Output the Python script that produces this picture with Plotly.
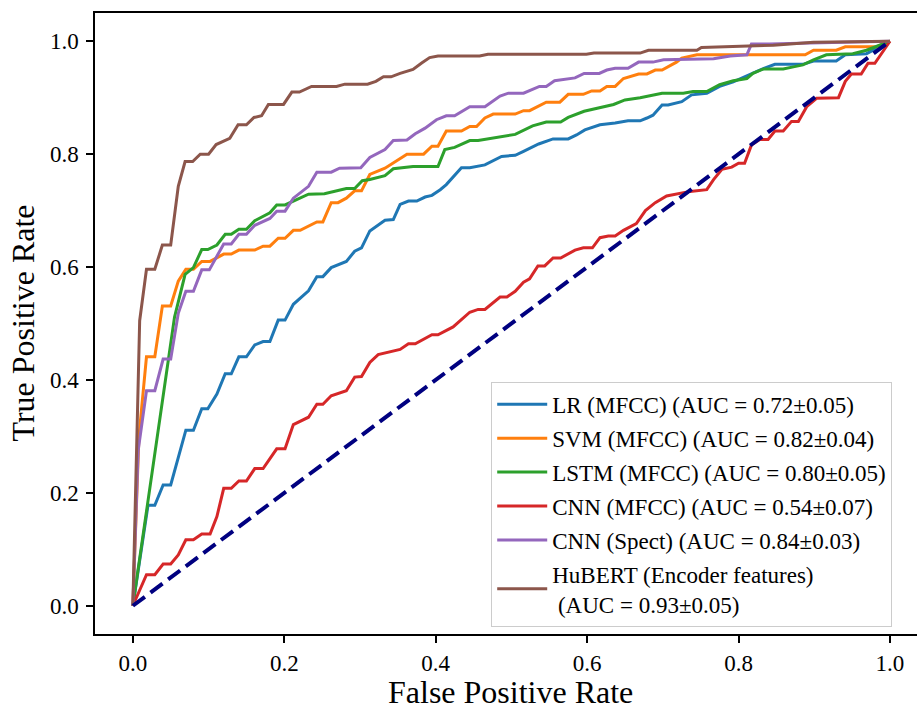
import plotly.graph_objects as go

# ---- data ----
lr_fpr = [0, 0.020, 0.029, 0.040, 0.050, 0.070, 0.080, 0.091, 0.099, 0.111, 0.122, 0.130, 0.140, 0.150,
          0.161, 0.172, 0.181, 0.192, 0.201, 0.212, 0.232, 0.243, 0.251, 0.262, 0.282, 0.293, 0.302,
          0.313, 0.333, 0.344, 0.353, 0.364, 0.375, 0.386, 0.395, 0.406, 0.414, 0.434, 0.445, 0.465,
          0.487, 0.505, 0.516, 0.536, 0.555, 0.575, 0.586, 0.597, 0.617, 0.637, 0.654, 0.670, 0.679,
          0.687, 0.699, 0.707, 0.725, 0.738, 0.758, 0.775, 0.793, 0.828, 0.848, 0.885, 0.899, 0.929,
          0.941, 0.969, 1.0]
lr_tpr = [0, 0.178, 0.178, 0.214, 0.214, 0.311, 0.311, 0.349, 0.349, 0.375, 0.411, 0.411, 0.441, 0.441,
          0.462, 0.468, 0.468, 0.506, 0.506, 0.534, 0.558, 0.583, 0.583, 0.599, 0.610, 0.628, 0.634,
          0.664, 0.683, 0.684, 0.711, 0.717, 0.717, 0.724, 0.727, 0.737, 0.746, 0.776, 0.776, 0.781,
          0.796, 0.798, 0.805, 0.818, 0.827, 0.827, 0.834, 0.843, 0.852, 0.855, 0.859, 0.859, 0.864,
          0.869, 0.887, 0.887, 0.893, 0.905, 0.908, 0.920, 0.928, 0.949, 0.959, 0.959, 0.965, 0.965,
          0.976, 0.978, 1.0]

svm_fpr = [0, 0.008, 0.018, 0.029, 0.039, 0.050, 0.060, 0.070, 0.080, 0.091, 0.102, 0.120, 0.130, 0.140,
           0.161, 0.172, 0.181, 0.192, 0.201, 0.212, 0.221, 0.243, 0.251, 0.262, 0.271, 0.282, 0.293,
           0.302, 0.313, 0.333, 0.362, 0.384, 0.395, 0.403, 0.414, 0.434, 0.445, 0.454, 0.465, 0.476,
           0.505, 0.516, 0.524, 0.546, 0.564, 0.575, 0.595, 0.606, 0.617, 0.626, 0.637, 0.648, 0.668,
           0.679, 0.690, 0.699, 0.718, 0.725, 0.745, 0.888, 0.899, 0.929, 0.941, 0.982, 1.0]
svm_tpr = [0, 0.299, 0.441, 0.441, 0.531, 0.531, 0.575, 0.596, 0.596, 0.610, 0.610, 0.623, 0.623, 0.630,
           0.630, 0.637, 0.637, 0.651, 0.651, 0.665, 0.665, 0.680, 0.680, 0.714, 0.714, 0.722, 0.735,
           0.735, 0.764, 0.775, 0.800, 0.800, 0.814, 0.814, 0.841, 0.841, 0.849, 0.849, 0.864, 0.871,
           0.871, 0.877, 0.877, 0.892, 0.892, 0.906, 0.906, 0.912, 0.912, 0.920, 0.920, 0.934, 0.942,
           0.942, 0.949, 0.949, 0.963, 0.970, 0.976, 0.976, 0.984, 0.984, 0.990, 0.990, 1.0]

lstm_fpr = [0, 0.055, 0.069, 0.080, 0.091, 0.099, 0.111, 0.122, 0.130, 0.140, 0.150, 0.161, 0.181, 0.190,
            0.201, 0.212, 0.232, 0.253, 0.282, 0.293, 0.303, 0.313, 0.333, 0.344, 0.370, 0.403, 0.412,
            0.425, 0.445, 0.456, 0.485, 0.505, 0.528, 0.546, 0.565, 0.575, 0.596, 0.617, 0.635, 0.650,
            0.670, 0.699, 0.727, 0.740, 0.758, 0.775, 0.793, 0.811, 0.819, 0.833, 0.859, 0.874, 0.885,
            0.899, 0.916, 0.951, 0.969, 1.0]
lstm_tpr = [0, 0.511, 0.587, 0.599, 0.631, 0.631, 0.639, 0.658, 0.658, 0.667, 0.667, 0.682, 0.696, 0.710,
            0.710, 0.717, 0.729, 0.730, 0.739, 0.739, 0.753, 0.755, 0.762, 0.774, 0.778, 0.778, 0.808,
            0.812, 0.824, 0.824, 0.830, 0.835, 0.850, 0.857, 0.857, 0.865, 0.876, 0.883, 0.888, 0.896,
            0.900, 0.908, 0.908, 0.911, 0.911, 0.923, 0.930, 0.934, 0.943, 0.951, 0.951, 0.955, 0.958,
            0.967, 0.976, 0.978, 0.984, 1.0]

cnn_fpr = [0, 0.018, 0.029, 0.040, 0.050, 0.060, 0.070, 0.080, 0.091, 0.102, 0.111, 0.120, 0.130, 0.140,
           0.150, 0.161, 0.172, 0.190, 0.201, 0.212, 0.232, 0.243, 0.251, 0.262, 0.282, 0.293, 0.302,
           0.313, 0.324, 0.353, 0.364, 0.373, 0.395, 0.403, 0.423, 0.445, 0.456, 0.465, 0.485, 0.494,
           0.505, 0.516, 0.524, 0.535, 0.544, 0.555, 0.565, 0.584, 0.595, 0.607, 0.617, 0.628, 0.637,
           0.648, 0.665, 0.677, 0.690, 0.705, 0.736, 0.758, 0.767, 0.778, 0.791, 0.800, 0.808, 0.817,
           0.828, 0.839, 0.848, 0.859, 0.870, 0.879, 0.890, 0.903, 0.932, 0.941, 0.949, 0.962, 0.971,
           0.980, 1.0]
cnn_tpr = [0, 0.055, 0.055, 0.074, 0.074, 0.090, 0.117, 0.117, 0.127, 0.127, 0.158, 0.208, 0.208, 0.221,
           0.221, 0.243, 0.243, 0.278, 0.278, 0.321, 0.334, 0.357, 0.357, 0.372, 0.381, 0.405, 0.406,
           0.431, 0.445, 0.454, 0.464, 0.464, 0.480, 0.480, 0.494, 0.520, 0.525, 0.525, 0.547, 0.547,
           0.557, 0.573, 0.579, 0.602, 0.602, 0.616, 0.616, 0.630, 0.634, 0.634, 0.652, 0.655, 0.655,
           0.665, 0.677, 0.700, 0.714, 0.726, 0.734, 0.737, 0.755, 0.773, 0.777, 0.784, 0.784, 0.816,
           0.826, 0.826, 0.841, 0.841, 0.858, 0.858, 0.884, 0.899, 0.900, 0.929, 0.942, 0.942, 0.961,
           0.961, 1.0]

spect_fpr = [0, 0.007, 0.018, 0.029, 0.040, 0.050, 0.060, 0.070, 0.080, 0.091, 0.101, 0.120, 0.130, 0.140,
             0.150, 0.161, 0.181, 0.190, 0.201, 0.212, 0.232, 0.243, 0.262, 0.273, 0.301, 0.313, 0.333,
             0.344, 0.362, 0.373, 0.386, 0.401, 0.414, 0.425, 0.445, 0.465, 0.485, 0.496, 0.516, 0.537,
             0.546, 0.557, 0.584, 0.596, 0.616, 0.626, 0.637, 0.654, 0.668, 0.687, 0.701, 0.767, 0.789,
             0.811, 0.817, 0.841, 0.894, 1.0]
spect_tpr = [0, 0.275, 0.381, 0.381, 0.437, 0.437, 0.518, 0.557, 0.557, 0.595, 0.595, 0.641, 0.641, 0.658,
             0.658, 0.674, 0.686, 0.699, 0.699, 0.722, 0.743, 0.768, 0.768, 0.775, 0.776, 0.794, 0.808,
             0.824, 0.825, 0.836, 0.846, 0.861, 0.868, 0.868, 0.884, 0.884, 0.903, 0.908, 0.908, 0.920,
             0.920, 0.930, 0.935, 0.943, 0.943, 0.949, 0.952, 0.952, 0.963, 0.963, 0.967, 0.969, 0.974,
             0.976, 0.995, 0.995, 0.997, 1.0]

hub_fpr = [0, 0.009, 0.018, 0.029, 0.039, 0.050, 0.060, 0.069, 0.079, 0.089, 0.100, 0.110, 0.128, 0.139,
           0.150, 0.160, 0.170, 0.179, 0.199, 0.210, 0.220, 0.236, 0.269, 0.280, 0.310, 0.321, 0.331,
           0.341, 0.353, 0.370, 0.381, 0.392, 0.403, 0.458, 0.469, 0.599, 0.609, 0.670, 0.681, 0.745,
           0.751, 0.775, 0.846, 0.899, 1.0]
hub_tpr = [0, 0.505, 0.596, 0.596, 0.639, 0.639, 0.743, 0.787, 0.787, 0.800, 0.800, 0.817, 0.828, 0.852,
           0.852, 0.865, 0.868, 0.888, 0.888, 0.910, 0.910, 0.920, 0.920, 0.924, 0.924, 0.929, 0.937,
           0.937, 0.943, 0.950, 0.961, 0.971, 0.974, 0.974, 0.977, 0.977, 0.979, 0.979, 0.984, 0.984,
           0.989, 0.990, 0.993, 0.998, 1.0]

names = ["LR (MFCC) (AUC = 0.72\u00b10.05)",
         "SVM (MFCC) (AUC = 0.82\u00b10.04)",
         "LSTM (MFCC) (AUC = 0.80\u00b10.05)",
         "CNN (MFCC) (AUC = 0.54\u00b10.07)",
         "CNN (Spect) (AUC = 0.84\u00b10.03)",
         "HuBERT (Encoder features)<br> (AUC = 0.93\u00b10.05)"]
colors = ["#1f77b4", "#ff7f0e", "#2ca02c", "#d62728", "#9467bd", "#8c564b"]
series = [(lr_fpr, lr_tpr), (svm_fpr, svm_tpr), (lstm_fpr, lstm_tpr),
          (cnn_fpr, cnn_tpr), (spect_fpr, spect_tpr), (hub_fpr, hub_tpr)]
diag = [0, 1]
ticks = [0.0, 0.2, 0.4, 0.6, 0.8, 1.0]
x_title = "False Positive Rate"
y_title = "True Positive Rate"

FONT = "Liberation Serif"

fig = go.Figure()
for i, ((fx, ty), name, col) in enumerate(zip(series, names, colors)):
    fig.add_trace(go.Scatter(x=fx, y=ty, mode="lines", name=name,
                             line=dict(color=col, width=3),
                             legendgroup=f"g{i}"))
fig.add_trace(go.Scatter(x=diag, y=diag, mode="lines", showlegend=False,
                         line=dict(color="navy", width=4, dash="15px,7px")))

axis_common = dict(showgrid=False, zeroline=False, showline=True, linecolor="black",
                   linewidth=1.5, ticks="outside", ticklen=7, tickwidth=1.5,
                   tickcolor="black", tickvals=ticks, tickformat=".1f", automargin=False,
                   tickfont=dict(family=FONT, size=23, color="black"))

fig.update_layout(
    width=917, height=709,
    margin=dict(l=95, r=0, t=13, b=75),
    paper_bgcolor="white", plot_bgcolor="white",
    font=dict(family=FONT, color="black"),
    xaxis=dict(range=[-0.05, 1.0357], mirror=True, ticklabelstandoff=1, **axis_common),
    yaxis=dict(range=[-0.05, 1.05], mirror=False, ticklabelstandoff=3, **axis_common),
    legend=dict(x=0.482, y=0.406, xanchor="left", yanchor="top",
                bgcolor="rgba(255,255,255,0.8)", bordercolor="#cccccc", borderwidth=1,
                font=dict(family=FONT, size=23, color="black"),
                tracegroupgap=1, itemwidth=50),
    annotations=[
        dict(text=x_title, xref="paper", yref="paper", x=0.506, y=-0.0935,
             xanchor="center", yanchor="middle", showarrow=False,
             font=dict(family=FONT, size=32, color="black")),
        dict(text=y_title, xref="paper", yref="paper", x=-0.0888, y=0.5,
             xanchor="center", yanchor="middle", showarrow=False, textangle=-90,
             font=dict(family=FONT, size=32, color="black")),
    ],
)

fig.write_html("out.html", config={"displayModeBar": False},
               post_script="document.body.style.margin='0';")
